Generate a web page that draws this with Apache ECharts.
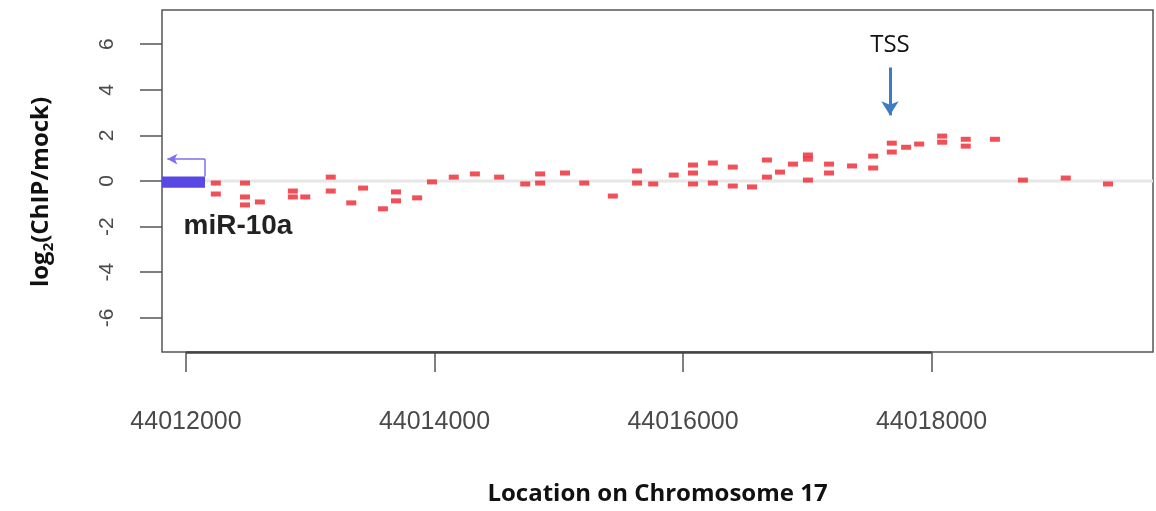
<!DOCTYPE html>
<html><head><meta charset="utf-8">
<script src="https://cdn.jsdelivr.net/npm/echarts@6/dist/echarts.min.js"></script>
<style>html,body{margin:0;padding:0;background:#fff}#c{width:1156px;height:511px}</style>
</head><body><div id="c"></div>
<script>
// ---- data ----
const xTicks = [44012000, 44014000, 44016000, 44018000];
const yTicks = [-6, -4, -2, 0, 2, 4, 6];
const xRange = [44011807, 44019782];
const yRange = [-7.5, 7.5];
const positions = [
  44012240, 44012240, 44012475, 44012475, 44012475, 44012595, 44012860, 44012860, 44012960,
  44013165, 44013165, 44013330, 44013425, 44013585, 44013690, 44013690, 44013860, 44013980,
  44014155, 44014325, 44014520, 44014730, 44014850, 44014850, 44015050, 44015205, 44015435,
  44015630, 44015630, 44015760, 44015925, 44016080, 44016080, 44016080, 44016240, 44016240,
  44016400, 44016400, 44016555, 44016675, 44016675, 44016780, 44016885, 44017005, 44017005,
  44017005, 44017175, 44017175, 44017360, 44017530, 44017530, 44017680, 44017680, 44017795,
  44017900, 44018085, 44018085, 44018275, 44018275, 44018510, 44018735, 44019080, 44019420
];
const ratios = [
  -0.09, -0.57, -0.09, -0.70, -1.05, -0.92, -0.44, -0.70, -0.70,
   0.17, -0.44, -0.96, -0.31, -1.22, -0.48, -0.87, -0.74, -0.04,
   0.17,  0.31,  0.17, -0.13,  0.31, -0.09,  0.35, -0.09, -0.66,
   0.44, -0.09, -0.13,  0.26,  0.70,  0.35, -0.13,  0.79, -0.09,
   0.61, -0.22, -0.26,  0.92,  0.17,  0.39,  0.74,  1.14,  0.96,
   0.04,  0.74,  0.35,  0.66,  1.09,  0.57,  1.66,  1.27,  1.48,
   1.62,  1.97,  1.70,  1.83,  1.53,  1.83,  0.04,  0.13, -0.13
];
const gene = { name: 'miR-10a', start: 44011807, end: 44012153, low: -0.3, high: 0.2 };
const geneArrow = { top: 0.96, tip: 44011850 };
const geneLabel = { x: 44011976, y: -1.97 };
const tss = { label: 'TSS', x: 44017665, labelY: 5.94, from: 4.98, to: 2.88 };

// ---- chart ----
const points = positions.map((p, i) => [p, ratios[i]]);
const chart = echarts.init(document.getElementById('c'), null, { renderer: 'canvas' });
const solid = (color, width) => ({ color: color, width: width, type: 'solid' });
chart.setOption({
  animation: false,
  backgroundColor: '#ffffff',
  grid: { left: 162, right: 3, top: 10, bottom: 159, show: true, borderColor: '#555', borderWidth: 1.5, backgroundColor: 'transparent' },
  xAxis: {
    type: 'value', min: xRange[0], max: xRange[1],
    axisLine: { show: false, onZero: false },
    splitLine: { show: false },
    axisTick: { show: true, customValues: xTicks, length: 20, lineStyle: { color: '#555', width: 1.5 } },
    axisLabel: { customValues: xTicks, formatter: v => String(v), margin: 58, fontSize: 25, color: '#4a4a4a', fontFamily: 'Liberation Sans' },
    name: 'Location on Chromosome 17', nameLocation: 'middle', nameGap: 130,
    nameTextStyle: { fontWeight: 'bold', fontSize: 24, fontFamily: 'Open Sans', color: '#111' }
  },
  yAxis: {
    type: 'value', min: yRange[0], max: yRange[1],
    axisLine: { show: false, onZero: false },
    splitLine: { show: false },
    axisTick: { show: true, customValues: yTicks, length: 22, lineStyle: { color: '#555', width: 1.5 } },
    axisLabel: { customValues: yTicks, rotate: 90, margin: 44, fontSize: 21, color: '#4a4a4a', fontFamily: 'Liberation Sans' },
    name: '{a|log}{s|2}{a|(ChIP/mock)}', nameLocation: 'middle', nameRotate: 90, nameGap: 106,
    nameTextStyle: {
      color: '#111',
      padding: [0, 22, 0, 0],
      rich: {
        a: { fontSize: 24, fontWeight: 'bold', fontFamily: 'Open Sans', color: '#111', lineHeight: 30 },
        s: { fontSize: 15, fontWeight: 'bold', fontFamily: 'Open Sans', color: '#111', lineHeight: 15, verticalAlign: 'bottom' }
      }
    }
  },
  series: [
    {
      type: 'line', silent: true, z: 0, symbol: 'none',
      data: [[xRange[0], 0], [xRange[1], 0]],
      lineStyle: { color: '#e6e6e6', width: 3 }
    },
    {
      type: 'scatter', z: 3, symbol: 'rect', symbolSize: [10, 5],
      itemStyle: { color: '#ee2a33', opacity: 0.82 },
      data: points,
      markArea: {
        silent: true, z: 2,
        itemStyle: { color: '#5a48e4', opacity: 1 },
        data: [[{ coord: [gene.start, gene.low] }, { coord: [gene.end, gene.high] }]]
      },
      markLine: {
        silent: true, animation: false,
        label: { show: false },
        data: [
          [{ coord: [gene.end, gene.high], symbol: 'none', lineStyle: solid('#7d70f0', 1.5) },
           { coord: [gene.end, geneArrow.top], symbol: 'none' }],
          [{ coord: [gene.end, geneArrow.top], symbol: 'none', lineStyle: solid('#7d70f0', 1.5) },
           { coord: [geneArrow.tip, geneArrow.top], symbol: 'arrow', symbolSize: [8, 10] }],
          [{ coord: [xTicks[0], yRange[0]], symbol: 'none', lineStyle: solid('#444', 2.5) },
           { coord: [xTicks[xTicks.length - 1], yRange[0]], symbol: 'none' }],
          [{ coord: [tss.x, tss.from], symbol: 'none', lineStyle: solid('#3d7cc4', 3) },
           { coord: [tss.x, tss.to], symbol: 'arrow', symbolSize: [13, 14] }]
        ]
      },
      markPoint: {
        silent: true, symbol: 'circle', symbolSize: 1, itemStyle: { color: 'rgba(0,0,0,0)' },
        data: [
          { coord: [geneLabel.x, geneLabel.y], label: { show: true, formatter: gene.name, position: 'right', distance: 0, fontSize: 28, fontWeight: 'bold', fontFamily: 'Liberation Sans', color: '#222' } },
          { coord: [tss.x, tss.labelY], label: { show: true, formatter: tss.label, position: 'inside', fontSize: 24, fontFamily: 'Open Sans', color: '#111' } }
        ]
      }
    }
  ]
});
</script></body></html>
